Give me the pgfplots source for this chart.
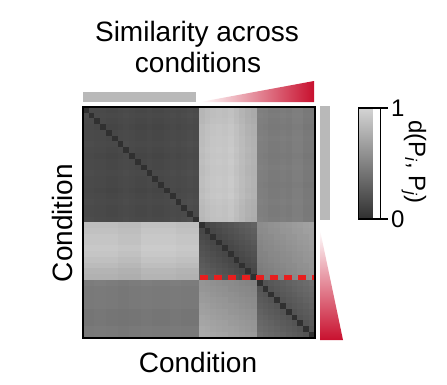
\documentclass[border=0pt]{standalone}
\usepackage{pgfplots}
\pgfplotsset{compat=1.18}
\usepackage{pgfplotstable}
\usepackage{fontspec}
\setmainfont{Liberation Sans}
\definecolor{crim}{RGB}{200,16,46}
\definecolor{barg}{RGB}{185,185,185}
\definecolor{dred}{RGB}{232,30,30}
\pgfplotstableread[header=false]{
0 16 15 15 14 14 15 16 15 14 14 15 14 14 15 16 15 16 17 16 81 84 86 87 86 88 84 80 76 74 48 47 45 45 46 45 47 47 44 44
17 0 16 16 15 15 16 17 16 15 15 16 15 15 16 17 16 17 18 17 81 84 86 87 86 88 84 80 76 74 49 48 46 46 47 46 48 48 45 45
16 16 0 15 14 14 15 16 15 14 14 15 14 14 15 16 15 16 17 16 82 85 87 88 87 89 85 81 77 75 48 47 45 45 46 45 47 47 44 44
15 15 14 0 13 13 14 15 14 13 13 14 13 13 14 15 14 15 16 15 84 87 89 90 89 91 87 83 79 77 47 46 44 44 45 44 46 46 43 43
16 16 15 15 0 14 15 16 15 14 14 15 14 14 15 16 15 16 17 16 84 87 89 90 89 91 87 83 79 77 48 47 45 45 46 45 47 47 44 44
16 16 15 15 14 0 15 16 15 14 14 15 14 14 15 16 15 16 17 16 85 88 90 91 90 92 88 84 80 78 49 48 46 46 47 46 48 48 45 45
17 17 16 16 15 15 0 17 16 15 15 16 15 15 16 17 16 17 18 17 85 88 90 91 90 92 88 84 80 78 48 47 45 45 46 45 47 47 44 44
16 16 15 15 14 14 15 0 15 14 14 15 14 14 15 16 15 16 17 16 86 89 91 92 91 93 89 85 81 79 48 47 45 45 46 45 47 47 44 44
15 15 14 14 13 13 14 15 0 13 13 14 13 13 14 15 14 15 16 15 85 88 90 91 90 92 88 84 80 78 47 46 44 44 45 44 46 46 43 43
16 16 15 15 14 14 15 16 15 0 14 15 14 14 15 16 15 16 17 16 86 89 91 92 91 93 89 85 81 79 48 47 45 45 46 45 47 47 44 44
16 16 15 15 14 14 15 16 15 14 0 15 14 14 15 16 15 16 17 16 85 88 90 91 90 92 88 84 80 78 49 48 46 46 47 46 48 48 45 45
17 17 16 16 15 15 16 17 16 15 15 0 15 15 16 17 16 17 18 17 85 88 90 91 90 92 88 84 80 78 48 47 45 45 46 45 47 47 44 44
16 16 15 15 14 14 15 16 15 14 14 15 0 14 15 16 15 16 17 16 86 89 91 92 91 93 89 85 81 79 48 47 45 45 46 45 47 47 44 44
16 16 15 15 14 14 15 16 15 14 14 15 14 0 15 16 15 16 17 16 86 89 91 92 91 93 89 85 81 79 47 46 44 44 45 44 46 46 43 43
15 15 14 14 13 13 14 15 14 13 13 14 13 13 0 15 14 15 16 15 85 88 90 91 90 92 88 84 80 78 48 47 45 45 46 45 47 47 44 44
16 16 15 15 14 14 15 16 15 14 14 15 14 14 15 0 15 16 17 16 86 89 91 92 91 93 89 85 81 79 48 47 45 45 46 45 47 47 44 44
17 17 16 16 15 15 16 17 16 15 15 16 15 15 16 17 0 17 18 17 84 87 89 90 89 91 87 83 79 77 49 48 46 46 47 46 48 48 45 45
16 16 15 15 14 14 15 16 15 14 14 15 14 14 15 16 15 0 17 16 83 86 88 89 88 90 86 82 78 76 48 47 45 45 46 45 47 47 44 44
16 16 15 15 14 14 15 16 15 14 14 15 14 14 15 16 15 16 0 16 83 86 88 89 88 90 86 82 78 76 48 47 45 45 46 45 47 47 44 44
17 17 16 16 15 15 16 17 16 15 15 16 15 15 16 17 16 17 18 0 82 85 87 88 87 89 85 81 77 75 49 48 46 46 47 46 48 48 45 45
86 86 86 86 86 86 84 84 84 84 88 88 88 88 88 88 86 86 86 86 0 14 16 18 20 22 24 26 28 30 56 57 59 60 62 63 65 66 68 69
88 88 88 88 88 88 86 86 86 86 90 90 90 90 90 90 88 88 88 88 14 0 14 16 18 20 22 24 26 28 55 56 58 59 61 62 64 65 67 68
90 90 90 90 90 90 88 88 88 88 92 92 92 92 92 92 90 90 90 90 16 14 0 14 16 18 20 22 24 26 53 55 56 58 59 61 62 64 65 67
90 90 90 90 90 90 88 88 88 88 92 92 92 92 92 92 90 90 90 90 18 16 14 0 14 16 18 20 22 24 52 54 55 57 58 60 61 63 64 66
92 92 92 92 92 92 90 90 90 90 94 94 94 94 94 94 92 92 92 92 20 18 16 14 0 14 16 18 20 22 51 53 54 56 57 59 60 62 63 65
90 90 90 90 90 90 88 88 88 88 92 92 92 92 92 92 90 90 90 90 22 20 18 16 14 0 14 16 18 20 50 51 53 54 56 57 59 60 62 63
87 87 87 87 87 87 85 85 85 85 89 89 89 89 89 89 87 87 87 87 24 22 20 18 16 14 0 14 16 18 49 50 52 53 55 56 58 59 61 62
84 84 84 84 84 84 82 82 82 82 86 86 86 86 86 86 84 84 84 84 26 24 22 20 18 16 14 0 14 16 47 49 50 52 53 55 56 58 59 61
80 80 80 80 80 80 78 78 78 78 82 82 82 82 82 82 80 80 80 80 28 26 24 22 20 18 16 14 0 14 46 48 49 51 52 54 55 57 58 60
78 78 78 78 78 78 76 76 76 76 80 80 80 80 80 80 78 78 78 78 30 28 26 24 22 20 18 16 14 0 45 47 48 50 51 53 54 56 57 59
46 46 47 47 46 46 45 45 46 46 47 47 46 46 46 47 47 46 46 46 61 60 58 57 56 55 54 52 51 50 0 22 24 26 28 30 32 34 36 38
44 44 45 45 44 44 43 43 44 44 45 45 44 44 44 45 45 44 44 44 62 61 60 59 58 56 55 54 53 52 22 0 22 24 26 28 30 32 34 36
44 44 45 45 44 44 43 43 44 44 45 45 44 44 44 45 45 44 44 44 64 63 61 60 59 58 57 55 54 53 24 22 0 22 24 26 28 30 32 34
44 44 45 45 44 44 43 43 44 44 45 45 44 44 44 45 45 44 44 44 65 64 63 62 61 59 58 57 56 55 26 24 22 0 22 24 26 28 30 32
44 44 45 45 44 44 43 43 44 44 45 45 44 44 44 45 45 44 44 44 67 66 64 63 62 61 60 58 57 56 28 26 24 22 0 22 24 26 28 30
42 42 43 43 42 42 41 41 42 42 43 43 42 42 42 43 43 42 42 42 68 67 66 65 64 62 61 60 59 58 30 28 26 24 22 0 22 24 26 28
42 42 43 43 42 42 41 41 42 42 43 43 42 42 42 43 43 42 42 42 70 69 67 66 65 64 63 61 60 59 32 30 28 26 24 22 0 22 24 26
42 42 43 43 42 42 41 41 42 42 43 43 42 42 42 43 43 42 42 42 71 70 69 68 67 65 64 63 62 61 34 32 30 28 26 24 22 0 22 24
44 44 45 45 44 44 43 43 44 44 45 45 44 44 44 45 45 44 44 44 73 72 70 69 68 67 66 64 63 62 36 34 32 30 28 26 24 22 0 22
44 44 45 45 44 44 43 43 44 44 45 45 44 44 44 45 45 44 44 44 74 73 72 71 70 68 67 66 65 64 38 36 34 32 30 28 26 24 22 0
}\hm
\begin{document}
\begin{tikzpicture}[x=1pt,y=1pt]
\useasboundingbox (0,0) rectangle (447,384);
\begin{axis}[
  at={(83pt,46pt)}, anchor=south west,
  scale only axis, width=232pt, height=231pt,
  xmin=-0.5, xmax=39.5, ymin=-0.5, ymax=39.5, y dir=reverse,
  xtick=\empty, ytick=\empty,
  axis on top, clip mode=individual,
  axis line style={line width=1.6pt, black},
  colormap={gm}{rgb255=(48,48,48) rgb255=(212,212,212)},
  point meta min=0, point meta max=100,
  colorbar,
  colorbar style={
    scale only axis, width=22pt, height=111pt,
    at={(parent axis.north east)}, anchor=north west,
    xshift=35pt, yshift=-1pt,
    ytick={0,100}, yticklabels={0,1},
    ytick pos=right, yticklabel pos=right,
    tick align=outside, major tick length=7pt,
    yticklabel style={font=\fontsize{24}{24}\selectfont},
    axis line style={line width=1.4pt, black},
    every tick/.style={line width=1.4pt, black},
  },
]
\pgfplotsinvokeforeach{0,...,39}{
  \addplot[scatter, only marks, mark=square*, mark size=2.95pt,
    point meta=explicit,
    scatter/use mapped color={draw=mapped color, fill=mapped color},
    mark options={line width=0.3pt}]
    table[x expr=#1, y expr=\coordindex, meta index=#1] {\hm};
}
\addplot[dred, line width=5pt, dash pattern=on 8pt off 6pt, mark=none] coordinates {(19.7,29) (39.5,29)};
\end{axis}
\fill[barg] (83,282) rectangle (196,292);
\fill[barg] (320,164) rectangle (330,278);
\shade[left color=white, right color=crim] (200,282) -- (314,282) -- (314,303) -- cycle;
\shade[top color=white, bottom color=crim] (320,154) -- (320,44) -- (343,44) -- cycle;
\node[anchor=base, font=\fontsize{28}{32}\selectfont] at (197,342) {Similarity across};
\node[anchor=base, font=\fontsize{28}{32}\selectfont] at (198,312) {conditions};
\node[anchor=base, font=\fontsize{28}{32}\selectfont] at (198,12) {Condition};
\node[anchor=base, rotate=90, font=\fontsize{28}{32}\selectfont] at (72,161) {Condition};
\node[rotate=-90, font=\fontsize{24}{28}\selectfont] at (414,222) {d(P\textsubscript{\textit{i}}, P\textsubscript{\textit{j}})};
\end{tikzpicture}
\end{document}
